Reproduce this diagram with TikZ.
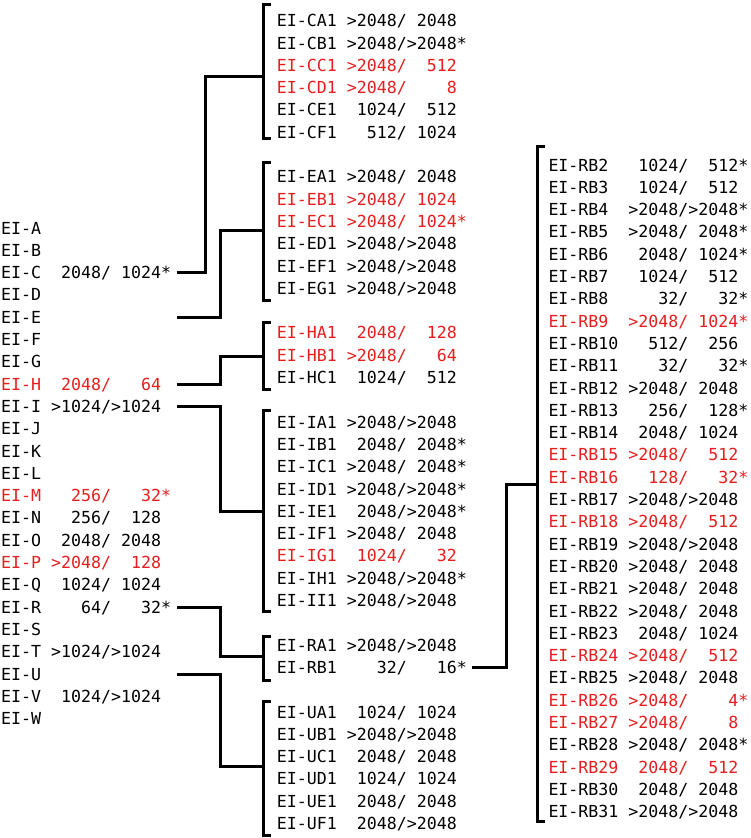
\documentclass[tikz,border=0pt]{standalone}
\usepackage{fontspec}
\setmonofont{DejaVu Sans Mono}
\definecolor{redt}{RGB}{230,30,30}
\newcommand\myrowfont{\ttfamily\fontsize{16.6}{20}\selectfont}
\begin{document}
\begin{tikzpicture}[x=1pt,y=-1pt,
  row/.style={anchor=west,inner sep=0pt,text height=12pt,text depth=0pt,font=\myrowfont},
  hot/.style={row,text=redt},
  link/.style={line width=3pt,line join=miter}]
\useasboundingbox (0,0) rectangle (750,838);
% left column
\node[row] (A) at (1,228.0) {EI-A};
\node[row] (B) at (1,250.3) {EI-B};
\node[row] (C) at (1,272.6) {EI-C~~2048/~1024*};
\node[row] (D) at (1,294.9) {EI-D};
\node[row] (E) at (1,317.2) {EI-E};
\node[row] (F) at (1,339.5) {EI-F};
\node[row] (G) at (1,361.8) {EI-G};
\node[hot] (H) at (1,384.1) {EI-H~~2048/~~~64};
\node[row] (I) at (1,406.4) {EI-I~>1024/>1024};
\node[row] (J) at (1,428.7) {EI-J};
\node[row] (K) at (1,451.0) {EI-K};
\node[row] (L) at (1,473.3) {EI-L};
\node[hot] (M) at (1,495.6) {EI-M~~~256/~~~32*};
\node[row] (N) at (1,517.9) {EI-N~~~256/~~128};
\node[row] (O) at (1,540.2) {EI-O~~2048/~2048};
\node[hot] (P) at (1,562.5) {EI-P~>2048/~~128};
\node[row] (Q) at (1,584.8) {EI-Q~~1024/~1024};
\node[row] (R) at (1,607.1) {EI-R~~~~64/~~~32*};
\node[row] (S) at (1,629.4) {EI-S};
\node[row] (T) at (1,651.7) {EI-T~>1024/>1024};
\node[row] (U) at (1,674.0) {EI-U};
\node[row] (V) at (1,696.3) {EI-V~~1024/>1024};
\node[row] (W) at (1,718.6) {EI-W};
% middle column
\node[row] (CA1) at (276.7,20.7) {EI-CA1~>2048/~2048};
\node[row] (CB1) at (276.7,43.0) {EI-CB1~>2048/>2048*};
\node[hot] (CC1) at (276.7,65.3) {EI-CC1~>2048/~~512};
\node[hot] (CD1) at (276.7,87.6) {EI-CD1~>2048/~~~~8};
\node[row] (CE1) at (276.7,109.9) {EI-CE1~~1024/~~512};
\node[row] (CF1) at (276.7,132.2) {EI-CF1~~~512/~1024};
\node[row] (EA1) at (276.7,176.8) {EI-EA1~>2048/~2048};
\node[hot] (EB1) at (276.7,199.1) {EI-EB1~>2048/~1024};
\node[hot] (EC1) at (276.7,221.4) {EI-EC1~>2048/~1024*};
\node[row] (ED1) at (276.7,243.7) {EI-ED1~>2048/>2048};
\node[row] (EF1) at (276.7,266.0) {EI-EF1~>2048/>2048};
\node[row] (EG1) at (276.7,288.3) {EI-EG1~>2048/>2048};
\node[hot] (HA1) at (276.7,332.9) {EI-HA1~~2048/~~128};
\node[hot] (HB1) at (276.7,355.2) {EI-HB1~>2048/~~~64};
\node[row] (HC1) at (276.7,377.5) {EI-HC1~~1024/~~512};
\node[row] (IA1) at (276.7,422.1) {EI-IA1~>2048/>2048};
\node[row] (IB1) at (276.7,444.4) {EI-IB1~~2048/~2048*};
\node[row] (IC1) at (276.7,466.7) {EI-IC1~>2048/~2048*};
\node[row] (ID1) at (276.7,489.0) {EI-ID1~>2048/>2048*};
\node[row] (IE1) at (276.7,511.3) {EI-IE1~~2048/>2048*};
\node[row] (IF1) at (276.7,533.6) {EI-IF1~>2048/~2048};
\node[hot] (IG1) at (276.7,555.9) {EI-IG1~~1024/~~~32};
\node[row] (IH1) at (276.7,578.2) {EI-IH1~>2048/>2048*};
\node[row] (II1) at (276.7,600.5) {EI-II1~>2048/>2048};
\node[row] (RA1) at (276.7,645.1) {EI-RA1~>2048/>2048};
\node[row] (RB1) at (276.7,667.4) {EI-RB1~~~~32/~~~16*};
\node[row] (UA1) at (276.7,712.0) {EI-UA1~~1024/~1024};
\node[row] (UB1) at (276.7,734.3) {EI-UB1~>2048/>2048};
\node[row] (UC1) at (276.7,756.6) {EI-UC1~~2048/~2048};
\node[row] (UD1) at (276.7,778.9) {EI-UD1~~1024/~1024};
\node[row] (UE1) at (276.7,801.2) {EI-UE1~~2048/~2048};
\node[row] (UF1) at (276.7,823.5) {EI-UF1~~2048/>2048};
% right column
\node[row] (RB2) at (548.3,165.0) {EI-RB2~~~1024/~~512*};
\node[row] (RB3) at (548.3,187.3) {EI-RB3~~~1024/~~512};
\node[row] (RB4) at (548.3,209.6) {EI-RB4~~>2048/>2048*};
\node[row] (RB5) at (548.3,231.9) {EI-RB5~~>2048/~2048*};
\node[row] (RB6) at (548.3,254.2) {EI-RB6~~~2048/~1024*};
\node[row] (RB7) at (548.3,276.5) {EI-RB7~~~1024/~~512};
\node[row] (RB8) at (548.3,298.8) {EI-RB8~~~~~32/~~~32*};
\node[hot] (RB9) at (548.3,321.1) {EI-RB9~~>2048/~1024*};
\node[row] (RB10) at (548.3,343.4) {EI-RB10~~~512/~~256};
\node[row] (RB11) at (548.3,365.7) {EI-RB11~~~~32/~~~32*};
\node[row] (RB12) at (548.3,388.0) {EI-RB12~>2048/~2048};
\node[row] (RB13) at (548.3,410.3) {EI-RB13~~~256/~~128*};
\node[row] (RB14) at (548.3,432.6) {EI-RB14~~2048/~1024};
\node[hot] (RB15) at (548.3,454.9) {EI-RB15~>2048/~~512};
\node[hot] (RB16) at (548.3,477.2) {EI-RB16~~~128/~~~32*};
\node[row] (RB17) at (548.3,499.5) {EI-RB17~>2048/>2048};
\node[hot] (RB18) at (548.3,521.8) {EI-RB18~>2048/~~512};
\node[row] (RB19) at (548.3,544.1) {EI-RB19~>2048/>2048};
\node[row] (RB20) at (548.3,566.4) {EI-RB20~>2048/~2048};
\node[row] (RB21) at (548.3,588.7) {EI-RB21~>2048/~2048};
\node[row] (RB22) at (548.3,611.0) {EI-RB22~>2048/~2048};
\node[row] (RB23) at (548.3,633.3) {EI-RB23~~2048/~1024};
\node[hot] (RB24) at (548.3,655.6) {EI-RB24~>2048/~~512};
\node[row] (RB25) at (548.3,677.9) {EI-RB25~>2048/~2048};
\node[hot] (RB26) at (548.3,700.2) {EI-RB26~>2048/~~~~4*};
\node[hot] (RB27) at (548.3,722.5) {EI-RB27~>2048/~~~~8};
\node[row] (RB28) at (548.3,744.8) {EI-RB28~>2048/~2048*};
\node[hot] (RB29) at (548.3,767.1) {EI-RB29~~2048/~~512};
\node[row] (RB30) at (548.3,789.4) {EI-RB30~~2048/~2048};
\node[row] (RB31) at (548.3,811.7) {EI-RB31~>2048/>2048};
% brackets
\draw[link] (271,4) -- (263,4) -- (263,138.5) -- (271,138.5);
\draw[link] (271,162.7) -- (263,162.7) -- (263,300) -- (271,300);
\draw[link] (271,322.7) -- (263,322.7) -- (263,389) -- (271,389);
\draw[link] (271,410) -- (263,410) -- (263,611.7) -- (271,611.7);
\draw[link] (271,636.7) -- (263,636.7) -- (263,680) -- (271,680);
\draw[link] (271,701.7) -- (263,701.7) -- (263,835) -- (271,835);
\draw[link] (545,146.7) -- (537,146.7) -- (537,821.7) -- (545,821.7);
% connector ends
\coordinate (sC) at (177,272.6);
\coordinate (sE) at (177,317.2);
\coordinate (sH) at (177,384.1);
\coordinate (sI) at (177,406.4);
\coordinate (sR) at (177,607.1);
\coordinate (sU) at (177,674.0);
\coordinate (sRB) at (471.7,667.4);
\coordinate (bC) at (263,76);
\coordinate (bE) at (263,230.7);
\coordinate (bH) at (263,356.7);
\coordinate (bI) at (263,511.7);
\coordinate (bR) at (263,656.7);
\coordinate (bU) at (263,766.7);
\coordinate (bRB) at (537,484.5);
% connectors
\draw[link] (sC) -- ++(28,0) |- (bC);
\draw[link] (sE) -- ++(43,0) |- (bE);
\draw[link] (sH) -- ++(43,0) |- (bH);
\draw[link] (sI) -- ++(43,0) |- (bI);
\draw[link] (sR) -- ++(43,0) |- (bR);
\draw[link] (sU) -- ++(43,0) |- (bU);
\draw[link] (sRB) -- ++(35,0) |- (bRB);
\end{tikzpicture}
\end{document}
